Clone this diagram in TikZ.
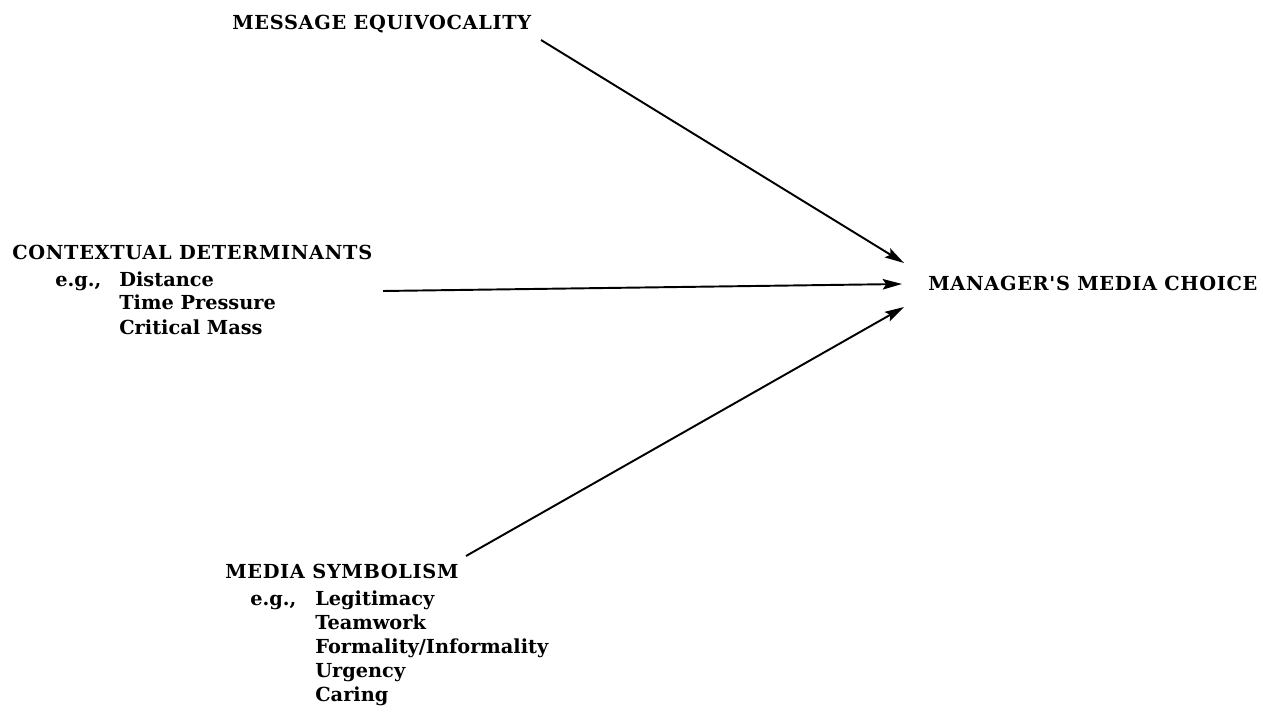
\documentclass[tikz,border=0pt]{standalone}
\usepackage{fontspec}
\setmainfont{DejaVu Serif}
\newfontfamily\capsface[LetterSpace=3.5]{DejaVu Serif}
\usetikzlibrary{arrows.meta}
\begin{document}
\begin{tikzpicture}[x=0.02cm,y=-0.02cm,
  lbl/.style={anchor=base west,inner sep=0pt,font=\bfseries\fontsize{11}{13}\selectfont},
  head/.style={lbl,font=\capsface\bfseries\fontsize{11}{13}\selectfont},
  conn/.style={line width=1.1pt,-{Stealth[length=11pt,width=6pt,inset=2pt]}}]
\useasboundingbox (0,0) rectangle (1263,719);
% nodes
\node[head] (me) at (232,30) {MESSAGE EQUIVOCALITY};
\node[head] (cd) at (12,260) {CONTEXTUAL DETERMINANTS};
\node[lbl] (cdeg) at (55,287) {e.g.,};
\node[lbl] (cd1) at (119,287) {Distance};
\node[lbl] (cd2) at (119,310) {Time Pressure};
\node[lbl] (cd3) at (119,334) {Critical Mass};
\node[head] (mc) at (928,291) {MANAGER{\char"27}S MEDIA CHOICE};
\node[head] (ms) at (225,578) {MEDIA SYMBOLISM};
\node[lbl] (mseg) at (250,605) {e.g.,};
\node[lbl] (ms1) at (315,605) {Legitimacy};
\node[lbl] (ms2) at (315,629) {Teamwork};
\node[lbl] (ms3) at (315,653) {Formality/Informality};
\node[lbl] (ms4) at (315,677) {Urgency};
\node[lbl] (ms5) at (315,701) {Caring};
% connector endpoints
\coordinate (s1) at (541,40);
\coordinate (s2) at (383,291);
\coordinate (s3) at (466,556);
\coordinate (t1) at (904,263);
\coordinate (t2) at (902,284);
\coordinate (t3) at (904,307);
\draw[conn] (s1) -- (t1);
\draw[conn] (s2) -- (t2);
\draw[conn] (s3) -- (t3);
\end{tikzpicture}
\end{document}
